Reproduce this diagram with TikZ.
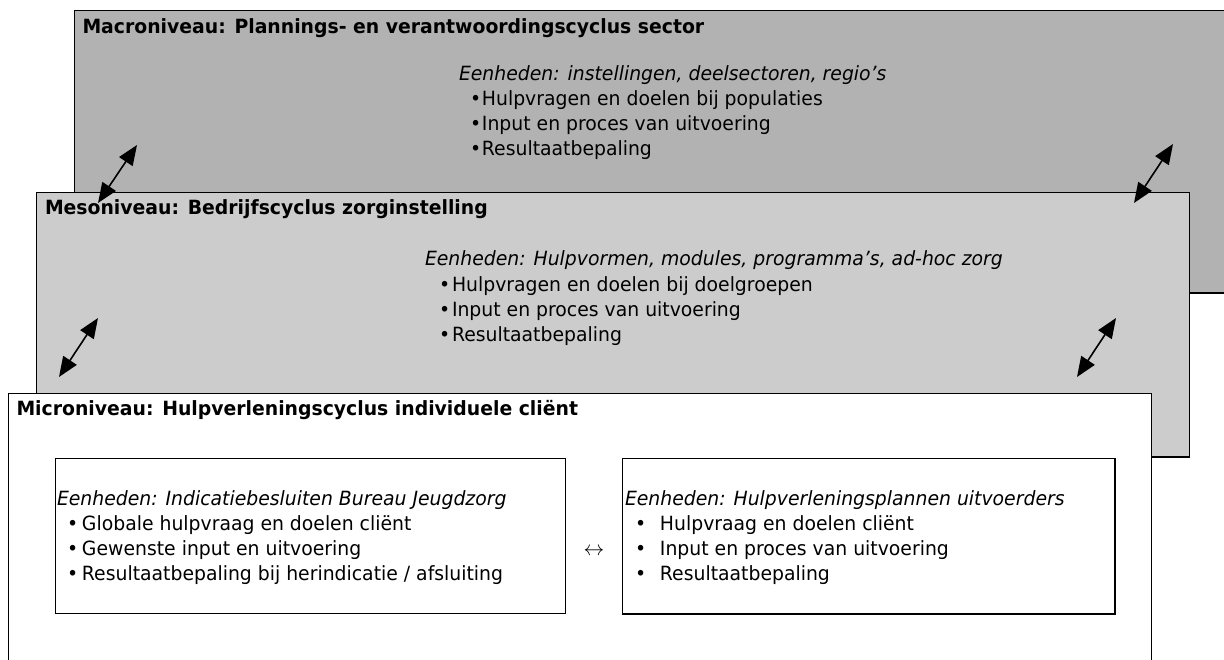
\documentclass[tikz,border=0pt]{standalone}
\usepackage{fontspec}
\setmainfont[FakeStretch=0.96]{DejaVu Sans}
\usetikzlibrary{arrows.meta}
\definecolor{macrogray}{RGB}{178,178,178}
\definecolor{mesogray}{RGB}{204,204,204}
% bullet set in a box of fixed width, followed by the item text
\newcommand{\bulletitem}[2]{\makebox[#1][l]{\textbullet}#2}
\begin{document}
\begin{tikzpicture}[x=1pt,y=-1pt,
  every node/.style={inner sep=0pt, outer sep=0pt},
  level/.style={draw=black, line width=1.5pt, anchor=north west},
  unitbox/.style={draw=black, line width=1.5pt, fill=white, anchor=north west},
  lvltext/.style={anchor=base west, font=\fontsize{19.6}{25}\selectfont},
  lvltitle/.style={lvltext, font=\fontsize{19.6}{25}\selectfont\bfseries},
  lvlunit/.style={lvltext, font=\fontsize{19.6}{25}\selectfont\itshape},
  link/.style={{Triangle[length=20pt,width=16pt]}-{Triangle[length=20pt,width=16pt]}, line width=1.6pt}
]
\useasboundingbox (0,0) rectangle (1224,660);
\clip (0,0) rectangle (1224,660);

% the three stacked levels
\node[level, fill=macrogray, minimum width=1180pt, minimum height=282.3pt] (macro) at (74.7,10.7) {};
\node[level, fill=mesogray, minimum width=1152.8pt, minimum height=264.3pt] (meso) at (36.7,192.7) {};
\node[level, fill=white, minimum width=1143.4pt, minimum height=300pt] (micro) at (8.3,393.5) {};

% the two unit boxes on the micro level
\node[unitbox, minimum width=510.4pt, minimum height=155pt] (bjz) at (55.3,458.3) {};
\node[unitbox, minimum width=492.3pt, minimum height=155.7pt] (plans) at (622.7,458.3) {};

% macro level
\node[lvltitle] (macroT) at (82.5,33.3) {Macroniveau: Plannings- en verantwoordingscyclus sector};
\node[lvlunit] (macroU) at (459,81) {Eenheden: instellingen, deelsectoren, regio’s};
\node[lvltext] (macroA) at (470,106) {\bulletitem{12pt}{Hulpvragen en doelen bij populaties}};
\node[lvltext] (macroB) at (470,131) {\bulletitem{12pt}{Input en proces van uitvoering}};
\node[lvltext] (macroC) at (470,156) {\bulletitem{12pt}{Resultaatbepaling}};

% meso level
\node[lvltitle] (mesoT) at (45,215) {Mesoniveau: Bedrijfscyclus zorginstelling};
\node[lvlunit] (mesoU) at (425,266) {Eenheden: Hulpvormen, modules, programma’s, ad-hoc zorg};
\node[lvltext] (mesoA) at (439,291.5) {\bulletitem{13pt}{Hulpvragen en doelen bij doelgroepen}};
\node[lvltext] (mesoB) at (439,316.5) {\bulletitem{13pt}{Input en proces van uitvoering}};
\node[lvltext] (mesoC) at (439,341.5) {\bulletitem{13pt}{Resultaatbepaling}};

% micro level
\node[lvltitle] (microT) at (16.5,415) {Microniveau: Hulpverleningscyclus individuele cliënt};
\node[lvlunit] (bjzU) at (57,505) {Eenheden: Indicatiebesluiten Bureau Jeugdzorg};
\node[lvltext] (bjzA) at (67,530) {\bulletitem{15pt}{Globale hulpvraag en doelen cliënt}};
\node[lvltext] (bjzB) at (67,555) {\bulletitem{15pt}{Gewenste input en uitvoering}};
\node[lvltext] (bjzC) at (67,580) {\bulletitem{15pt}{Resultaatbepaling bij herindicatie / afsluiting}};
\node[lvlunit] (plansU) at (625,505) {Eenheden: Hulpverleningsplannen uitvoerders};
\node[lvltext] (plansA) at (635,530) {\bulletitem{25pt}{Hulpvraag en doelen cliënt}};
\node[lvltext] (plansB) at (635,555) {\bulletitem{25pt}{Input en proces van uitvoering}};
\node[lvltext] (plansC) at (635,580) {\bulletitem{25pt}{Resultaatbepaling}};
\node[font=\fontsize{21}{25}\selectfont] (swap) at (594,552) {$\leftrightarrow$};

% links between the levels
\coordinate (l1a) at (98,203);   \coordinate (l1b) at (137,145);
\coordinate (l2a) at (59,377);   \coordinate (l2b) at (98,318);
\coordinate (r1a) at (1134,203); \coordinate (r1b) at (1173,144);
\coordinate (r2a) at (1077,377); \coordinate (r2b) at (1116,318);
\draw[link] (l1a) -- (l1b);
\draw[link] (l2a) -- (l2b);
\draw[link] (r1a) -- (r1b);
\draw[link] (r2a) -- (r2b);
\end{tikzpicture}
\end{document}
